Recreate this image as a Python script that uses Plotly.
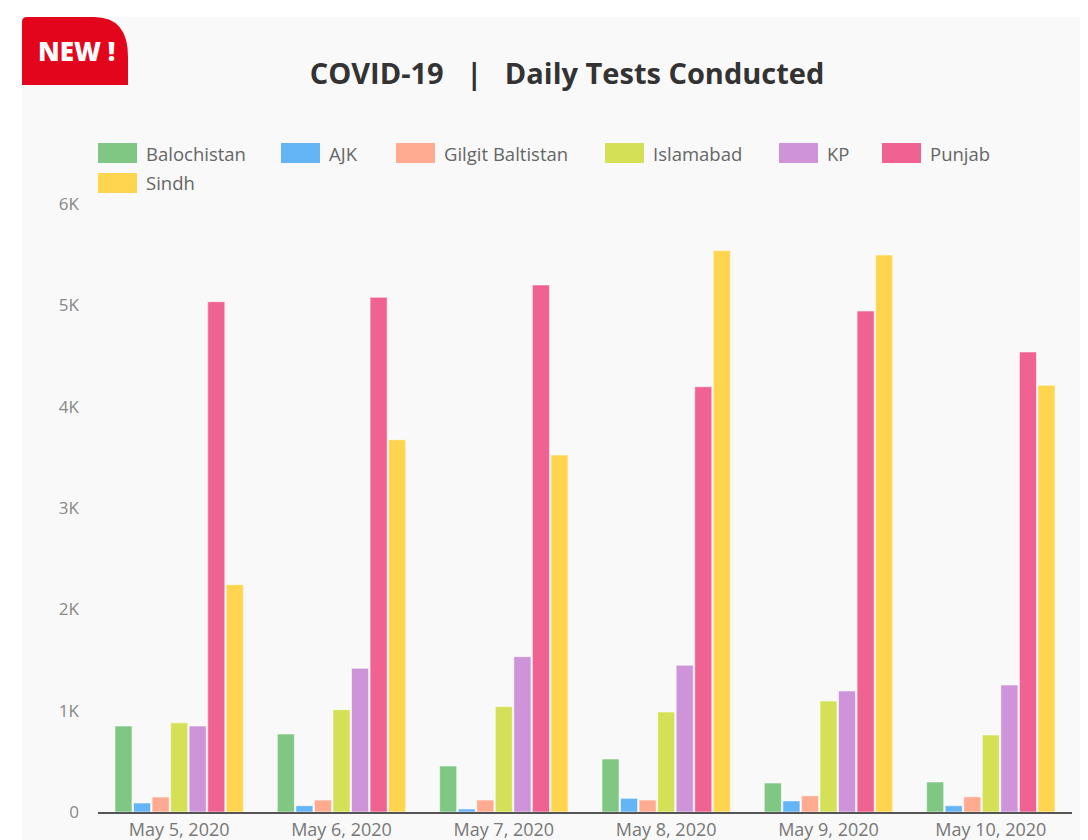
import plotly.graph_objects as go

dates = ["May 5, 2020", "May 6, 2020", "May 7, 2020", "May 8, 2020", "May 9, 2020", "May 10, 2020"]

balochistan = [849, 770, 454, 523, 286, 296]
ajk = [89, 62, 30, 135, 109, 62]
gilgit_baltistan = [148, 118, 118, 118, 160, 150]
islamabad = [880, 1010, 1040, 987, 1095, 760]
kp = [849, 1418, 1533, 1448, 1194, 1253]
punjab = [5036, 5080, 5201, 4197, 4944, 4540]
sindh = [2243, 3674, 3523, 5540, 5497, 4211]

series_names = ["Balochistan", "AJK", "Gilgit Baltistan", "Islamabad", "KP", "Punjab", "Sindh"]
series_values = [balochistan, ajk, gilgit_baltistan, islamabad, kp, punjab, sindh]
series_colors = ["#81c784", "#64b5f6", "#ffab91", "#d4e157", "#ce93d8", "#f06292", "#ffd54f"]

y_tickvals = [0, 1000, 2000, 3000, 4000, 5000, 6000]
y_ticktext = ["0", "1K", "2K", "3K", "4K", "5K", "6K"]

# page body has an 8px margin; figure is sized so that it fills the window
OFF = 8
W, H = 1088 - OFF, 840 - OFF
# plot area in window pixels
L, R, T, B = 98, 1072, 204, 812
FONT = "Open Sans"


def xp(px):
    return (px - L) / (R - L)


def yp(py):
    return (B - py) / (B - T)


fig = go.Figure()
for name, vals, col in zip(series_names, series_values, series_colors):
    fig.add_trace(go.Bar(
        x=dates, y=vals, name=name,
        marker=dict(color=col, line=dict(color="rgba(255,255,255,0.55)", width=1)),
        showlegend=False,
    ))

shapes = []
# card background
shapes.append(dict(type="rect", xref="paper", yref="paper",
                   x0=xp(22), x1=xp(1100), y0=yp(860), y1=yp(17),
                   fillcolor="#f9f9f9", line=dict(width=0), layer="below"))
# NEW badge
path = "M {a},{g} Q {a},{b} {h},{b} L {c},{b} Q {d},{b} {d},{e} L {d},{f} L {a},{f} Z".format(
    a=xp(22), b=yp(17), c=xp(94), d=xp(128), e=yp(57), f=yp(85), g=yp(22), h=xp(27))
shapes.append(dict(type="path", xref="paper", yref="paper", path=path,
                   fillcolor="#e3051b", line=dict(width=0), layer="above"))

annotations = [dict(text="NEW !", xref="paper", yref="paper", x=xp(76), y=yp(51),
                    showarrow=False, font=dict(family=FONT, size=26, color="white", weight=800),
                    xanchor="center", yanchor="middle")]

# custom legend (rectangular swatches)
legend_x = [98, 281, 396, 605, 779, 882, 98]
legend_row = [0, 0, 0, 0, 0, 0, 1]
for name, col, lx, row in zip(series_names, series_colors, legend_x, legend_row):
    cy = 153 + row * 30
    shapes.append(dict(type="rect", xref="paper", yref="paper",
                       x0=xp(lx), x1=xp(lx + 39), y0=yp(cy + 10), y1=yp(cy - 10),
                       fillcolor=col, line=dict(width=0)))
    annotations.append(dict(text=name, xref="paper", yref="paper", x=xp(lx + 46), y=yp(cy),
                            showarrow=False, xanchor="left", yanchor="middle",
                            font=dict(family=FONT, size=18.5, color="#666666")))

fig.update_layout(
    width=W, height=H,
    margin=dict(l=L - OFF, r=1088 - R, t=T - OFF, b=840 - B, pad=0, autoexpand=False),
    paper_bgcolor="white",
    plot_bgcolor="rgba(0,0,0,0)",
    barmode="group", bargap=0.2, bargroupgap=0.08,
    title=dict(text="COVID-19\u00a0\u00a0\u00a0|\u00a0\u00a0\u00a0Daily Tests Conducted",
               xref="paper", x=xp(567), xanchor="center",
               yref="container", y=1 - (74 - OFF) / H, yanchor="middle",
               font=dict(family=FONT, size=29, color="#333333", weight="bold")),
    font=dict(family=FONT, color="#777777"),
    shapes=shapes,
    annotations=annotations,
    xaxis=dict(showline=True, linecolor="#555555", linewidth=2, showgrid=False,
               tickfont=dict(family=FONT, size=18, color="#777777"), ticks="",
               ticklabelstandoff=0, automargin=False, fixedrange=True),
    yaxis=dict(range=[0, 6000], tickvals=y_tickvals, ticktext=y_ticktext, showgrid=False,
               zeroline=False, showline=False, ticks="", ticklabelstandoff=18,
               automargin=False,
               tickfont=dict(family=FONT, size=17, color="#888888")),
)

fig.write_html("out.html")
